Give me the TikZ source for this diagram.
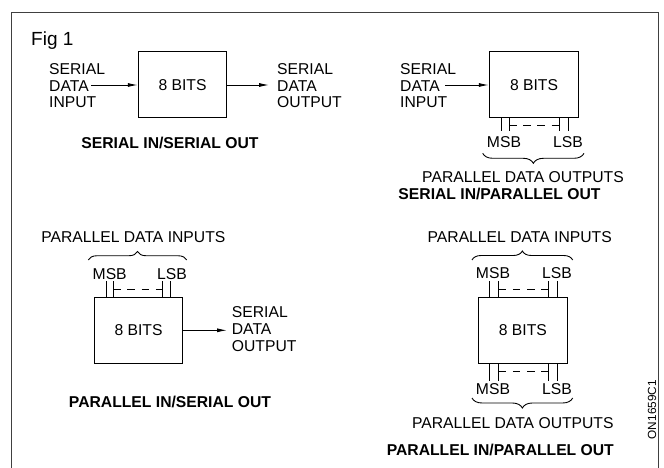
\documentclass[tikz,border=0pt]{standalone}
\usepackage{fontspec}
\setmainfont{Liberation Sans}
\usetikzlibrary{arrows.meta,decorations.pathreplacing}
\begin{document}
\begin{tikzpicture}[x=1pt,y=-1pt,
  txt/.style={inner sep=0pt,font=\fontsize{15.7}{16.6}\selectfont},
  mtxt/.style={txt,align=left,anchor=north west},
  ttl/.style={inner sep=0pt,font=\fontsize{15.7}{16.6}\selectfont\bfseries,anchor=base},
  lbl/.style={txt,anchor=base},
  reg/.style={draw,line width=1pt,minimum width=88.5pt,minimum height=66pt,inner sep=0pt,font=\fontsize{15.7}{16.6}\selectfont},
  arr/.style={line width=0.9pt,-{Latex[length=10pt,width=4pt]}},
  pin/.style={line width=0.9pt},
  dsh/.style={line width=0.9pt,dash pattern=on 7.5pt off 6.67pt},
  brc/.style={line width=0.9pt,decorate,decoration={brace,amplitude=#1}}
]
\useasboundingbox (0,0) rectangle (664,468);
% frame
\draw[line width=1pt,black!75] (11,468) -- (11,13) -- (658,13) -- (658,468);
\node[inner sep=0pt,anchor=base west,font=\fontsize{19}{20}\selectfont] (fig) at (31,45.3) {Fig 1};

% ---- serial in / serial out
\node[reg] (b1) at (182.5,85) {8 BITS};
\node[mtxt] (in1) at (49,63.3) {SERIAL\\DATA\\INPUT};
\coordinate (a1) at (91,85);
\draw[arr] (a1) -- (b1.west);
\coordinate (o1) at (269,85);
\draw[arr] (b1.east) -- (o1);
\node[mtxt] (out1) at (277,63.3) {SERIAL\\DATA\\OUTPUT};
\node[ttl] (c1) at (170,148.3) {SERIAL IN/SERIAL OUT};

% ---- serial in / parallel out
\node[reg,minimum width=89.5pt] (b2) at (534,85) {8 BITS};
\node[mtxt] (in2) at (400,63.3) {SERIAL\\DATA\\INPUT};
\coordinate (a2) at (445,85);
\draw[arr] (a2) -- (b2.west);
\draw[pin] (501,118) -- (501,131) (509,118) -- (509,131)
           (559,118) -- (559,131) (568,118) -- (568,131);
\draw[dsh] (509,125) -- (559,125);
\node[lbl] (m2) at (504,147.7) {MSB};
\node[lbl] (l2) at (568,147.7) {LSB};
\draw[brc=10pt] (584,153.3) -- (482.7,153.3);
\node[lbl] (p2) at (523,182.7) {PARALLEL DATA OUTPUTS};
\node[ttl] (c2) at (499.5,200) {SERIAL IN/PARALLEL OUT};

% ---- parallel in / serial out
\node[reg] (b3) at (138.5,330.3) {8 BITS};
\node[lbl] (p3) at (133.3,242.3) {PARALLEL DATA INPUTS};
\draw[brc=8.5pt] (88.3,260) -- (186.7,260);
\node[lbl] (m3) at (109.7,279.5) {MSB};
\node[lbl] (l3) at (172,279.5) {LSB};
\draw[pin] (106,281) -- (106,297.3) (113.3,281) -- (113.3,297.3)
           (162.7,281) -- (162.7,297.3) (170.7,281) -- (170.7,297.3);
\draw[dsh] (113.3,289.3) -- (162.7,289.3);
\coordinate (o3) at (227,330.3);
\draw[arr] (b3.east) -- (o3);
\node[mtxt] (out3) at (231.7,306.7) {SERIAL\\DATA\\OUTPUT};
\node[ttl] (c3) at (170,407.3) {PARALLEL IN/SERIAL OUT};

% ---- parallel in / parallel out
\node[reg] (b4) at (522.9,330.3) {8 BITS};
\node[lbl] (p4) at (519.7,242.3) {PARALLEL DATA INPUTS};
\draw[brc=9pt] (472,260) -- (572.7,260);
\node[lbl] (m4) at (493,278.3) {MSB};
\node[lbl] (l4) at (557,278.3) {LSB};
\draw[pin] (489.7,281) -- (489.7,297.3) (498.7,281) -- (498.7,297.3)
           (548.7,281) -- (548.7,297.3) (557,281) -- (557,297.3);
\draw[dsh] (498.7,289) -- (548.7,289);
\draw[pin] (489.7,363.3) -- (489.7,381.3) (498.7,363.3) -- (498.7,381.3)
           (548.7,363.3) -- (548.7,381.3) (557,363.3) -- (557,381.3);
\draw[dsh] (498.7,371) -- (548.7,371);
\node[lbl] (m5) at (493,394) {MSB};
\node[lbl] (l5) at (557,394) {LSB};
\draw[brc=10pt] (572.7,398) -- (472,398);
\node[lbl] (p5) at (512.8,428) {PARALLEL DATA OUTPUTS};
\node[ttl] (c4) at (500.3,455.7) {PARALLEL IN/PARALLEL OUT};

\node[inner sep=0pt,rotate=90,font=\fontsize{11.8}{12}\selectfont] (id) at (652,409.7) {ON1659C1};
\end{tikzpicture}
\end{document}
